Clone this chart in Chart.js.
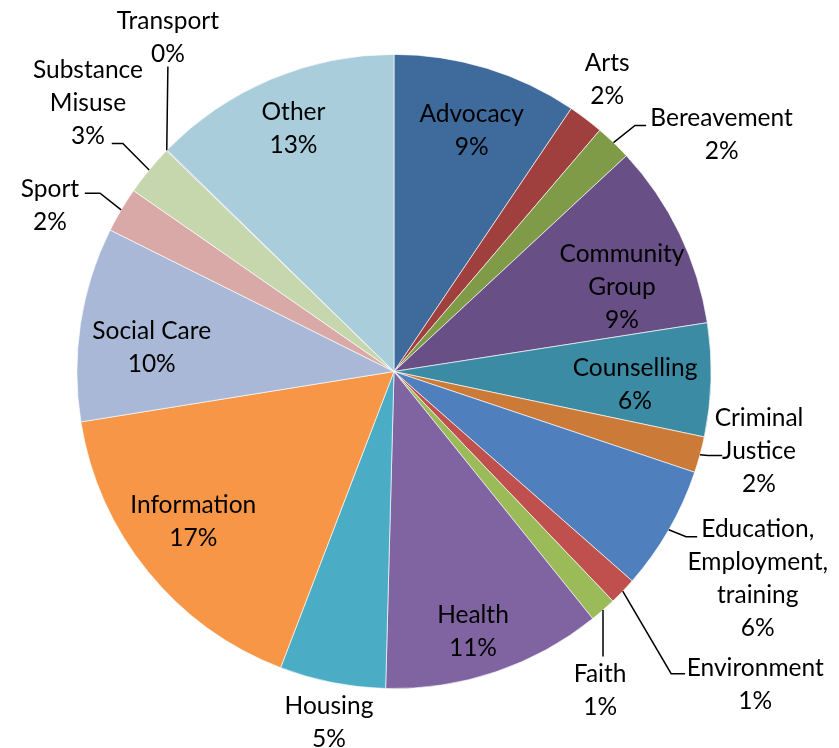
<!DOCTYPE html>
<html><head><meta charset="utf-8">
<script src="https://cdn.jsdelivr.net/npm/chart.js@4.4.0/dist/chart.umd.min.js"></script>
<style>html,body{margin:0;padding:0;background:#fff;overflow:hidden}#wrap{width:839px;height:748px;position:relative}</style>
</head><body><div id="wrap"><canvas id="c" width="839" height="748"></canvas></div>
<script>
// ---- data ----
const categories = ["Advocacy", "Arts", "Bereavement", "Community\nGroup", "Counselling", "Criminal\nJustice",
  "Education,\nEmployment,\ntraining", "Environment", "Faith", "Health", "Housing", "Information",
  "Social Care", "Sport", "Substance\nMisuse", "Transport", "Other"];
const shares = [9.44, 1.8, 1.85, 9.45, 5.77, 1.84, 6.33, 1.4, 1.34, 11.2, 5.4, 16.64, 9.9, 2.3, 2.6, 0.05, 12.69];
const colors = ["#3F6A9C", "#A0403E", "#7F9B48", "#684F86", "#3A8BA3", "#CB7A38", "#4F80BD", "#C0504D",
  "#9BBB59", "#8064A2", "#4BACC6", "#F79646", "#A9B8D6", "#D9A9A8", "#C6D7AD", "#B9ADCC", "#A9CDDB"];

// ---- label layout (relative to pie centre, in units of radius) ----
const labelLayout = [
  {pos: [0.245, -0.763]},
  {pos: [0.672, -0.925]},
  {pos: [1.033, -0.750], leader: [[0.760, -0.776], [0.795, -0.776]]},
  {pos: [0.719, -0.268]},
  {pos: [0.760, 0.039]},
  {pos: [1.151, 0.249], leader: [[0.990, 0.265], [1.035, 0.265]]},
  {pos: [1.147, 0.650], leader: [[0.921, 0.521], [0.956, 0.521]]},
  {pos: [1.139, 0.983], leader: [[0.874, 0.953], [0.918, 0.953]]},
  {pos: [0.650, 1.003], leader: [[0.659, 0.899]]},
  {pos: [0.249, 0.817]},
  {pos: [-0.205, 1.104]},
  {pos: [-0.633, 0.470]},
  {pos: [-0.764, -0.079]},
  {pos: [-1.085, -0.527], leader: [[-0.927, -0.562], [-0.975, -0.562]]},
  {pos: [-0.965, -0.848], leader: [[-0.855, -0.719], [-0.890, -0.719]]},
  {pos: [-0.713, -1.057], leader: [[-0.713, -0.962]]},
  {pos: [-0.317, -0.768]}
];
const FONT = '24.5px Lato';
const LINE_H = 33;

const labelPlugin = {
  id: 'sliceLabels',
  afterDatasetsDraw(chart) {
    const ctx = chart.ctx;
    const meta = chart.getDatasetMeta(0);
    const total = shares.reduce((a, b) => a + b, 0);
    ctx.save();
    ctx.font = FONT;
    ctx.fillStyle = '#000';
    ctx.strokeStyle = '#000';
    ctx.lineWidth = 1.5;
    ctx.textAlign = 'center';
    ctx.textBaseline = 'middle';
    meta.data.forEach((arc, i) => {
      const p = arc.getProps(['x', 'y', 'startAngle', 'endAngle', 'outerRadius'], true);
      const R = p.outerRadius, x = p.x, y = p.y;
      const mid = (p.startAngle + p.endAngle) / 2;
      const lay = labelLayout[i];
      if (lay.leader) {
        ctx.beginPath();
        ctx.moveTo(x + Math.cos(mid) * R, y + Math.sin(mid) * R);
        lay.leader.forEach(([ux, uy]) => ctx.lineTo(x + ux * R, y + uy * R));
        ctx.stroke();
      }
      const lines = categories[i].split('\n').concat([Math.round(shares[i] / total * 100) + '%']);
      const cx = x + lay.pos[0] * R, cy = y + lay.pos[1] * R + 1;
      lines.forEach((t, k) => ctx.fillText(t, cx, cy + (k - (lines.length - 1) / 2) * LINE_H));
    });
    ctx.restore();
  }
};

function draw() {
  new Chart(document.getElementById('c'), {
    type: 'pie',
    data: {
      labels: categories.map(c => c.replace(/\n/g, ' ')),
      datasets: [{data: shares, backgroundColor: colors, borderColor: 'rgba(255,255,255,0.85)', borderWidth: 0.75}]
    },
    options: {
      responsive: false,
      animation: false,
      layout: {padding: {left: 50, right: 101, top: 54, bottom: 59}},
      plugins: {legend: {display: false}, tooltip: {enabled: false}}
    },
    plugins: [labelPlugin]
  });
}
if (document.fonts && document.fonts.load) {
  document.fonts.load(FONT).then(draw, draw);
} else { draw(); }
</script>
</body></html>
